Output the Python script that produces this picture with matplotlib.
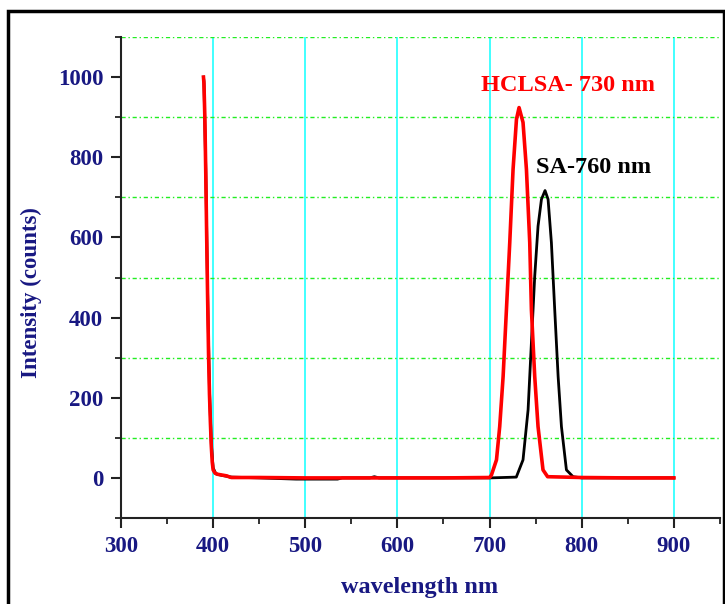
import matplotlib
matplotlib.use("Agg")
import matplotlib.pyplot as plt
from matplotlib.patches import Rectangle
from matplotlib.ticker import MultipleLocator

# red spectrum (HCLSA)
red_wl = [389.5, 390, 391, 392, 393, 394, 395, 396, 397, 398, 399, 400, 402, 405, 410,
          415, 418, 420, 450, 500, 550, 600, 650, 700, 702, 707.5, 711, 714.7, 718.3,
          721.9, 725.5, 729.2, 732, 736.3, 740, 743.6, 745.4, 749, 752.6, 758, 763,
          800, 850, 900]
red_int = [1000, 985, 900, 760, 600, 450, 310, 210, 140, 80, 40, 20, 12, 9, 7,
           5, 2, 1, 1, 0, 0, 0, 0, 1, 7, 45, 128, 253, 420,
           587, 770, 895, 924, 887, 770, 587, 420, 253, 128, 20, 3,
           1, 0, 0]

# black spectrum (SA)
black_wl = [389.5, 390, 392, 394, 396, 398, 400, 403, 410, 420, 450, 490, 510, 535,
            540, 570, 575, 580, 650, 700, 729, 736.3, 741.8, 745.4, 749, 752.6, 756.3,
            760.2, 763.5, 767.1, 770.7, 774.4, 778, 783.4, 790.6, 800, 850, 900]
black_int = [1000, 990, 770, 460, 220, 85, 25, 10, 6, 2, 0, -3, -3, -3,
             0, 0, 3, 0, 0, 0, 2, 45, 170, 337, 503, 628, 695,
             717, 695, 587, 420, 253, 128, 20, 3, 0, 0, 0]

navy = "#181882"
serif = ["Liberation Serif", "DejaVu Serif"]

fig = plt.figure(figsize=(7.25, 6.04), dpi=100)
ax = fig.add_axes([0.1669, 0.1424, 0.8261, 0.7963])

ax.plot(black_wl, black_int, color="black", lw=2.0, zorder=3)
ax.plot(red_wl, red_int, color="#ff0000", lw=2.6, zorder=4)

ax.set_xlim(300, 950)
ax.set_ylim(-100, 1100)
ax.xaxis.set_major_locator(MultipleLocator(100))
ax.xaxis.set_minor_locator(MultipleLocator(50))
ax.yaxis.set_major_locator(MultipleLocator(200))
ax.yaxis.set_minor_locator(MultipleLocator(100))

ax.grid(which="major", axis="x", color="#33ffff", lw=1.3, zorder=1)
ax.grid(which="minor", axis="y", color="#22ee22", lw=1.0, ls=(0, (3, 2, 1, 2)), zorder=1)

for s in ["top", "right"]:
    ax.spines[s].set_visible(False)
for s in ["left", "bottom"]:
    ax.spines[s].set_linewidth(1.5)
    ax.spines[s].set_color("#222222")

ax.tick_params(which="major", direction="out", length=7.2, width=1.5, color="#222222")
ax.tick_params(which="minor", direction="out", length=4.3, width=1.3, color="#222222")
ax.tick_params(axis="both", labelsize=16.5, labelcolor=navy)
ax.tick_params(axis="y", pad=5.5)
ax.tick_params(axis="x", pad=6)
for lab in ax.get_xticklabels() + ax.get_yticklabels():
    lab.set_fontfamily(serif)
    lab.set_fontweight("bold")

ax.set_xlabel("wavelength nm", fontsize=17.5, fontweight="bold", color=navy, family=serif)
ax.set_ylabel("Intensity (counts)", fontsize=16.5, fontweight="bold", color=navy, family=serif)
ax.xaxis.set_label_coords(0.499, -0.1435)
ax.yaxis.set_label_coords(-0.150, 0.468)
ax.xaxis.label.set_va("center")
ax.yaxis.label.set_va("center")

ax.text(691, 980, "HCLSA- 730 nm", color="#ff0000", fontsize=17.5, fontweight="bold",
        family=serif, va="center", ha="left")
ax.text(750, 775, "SA-760 nm", color="black", fontsize=17.5, fontweight="bold",
        family=serif, va="center", ha="left")

# frame around the whole figure
fig.patches.append(Rectangle((8 / 725, -0.05), 716 / 725, 1.05 - 11 / 604,
                             transform=fig.transFigure, fill=False,
                             edgecolor="black", lw=2.5))

fig.savefig("out.png", dpi=100)
